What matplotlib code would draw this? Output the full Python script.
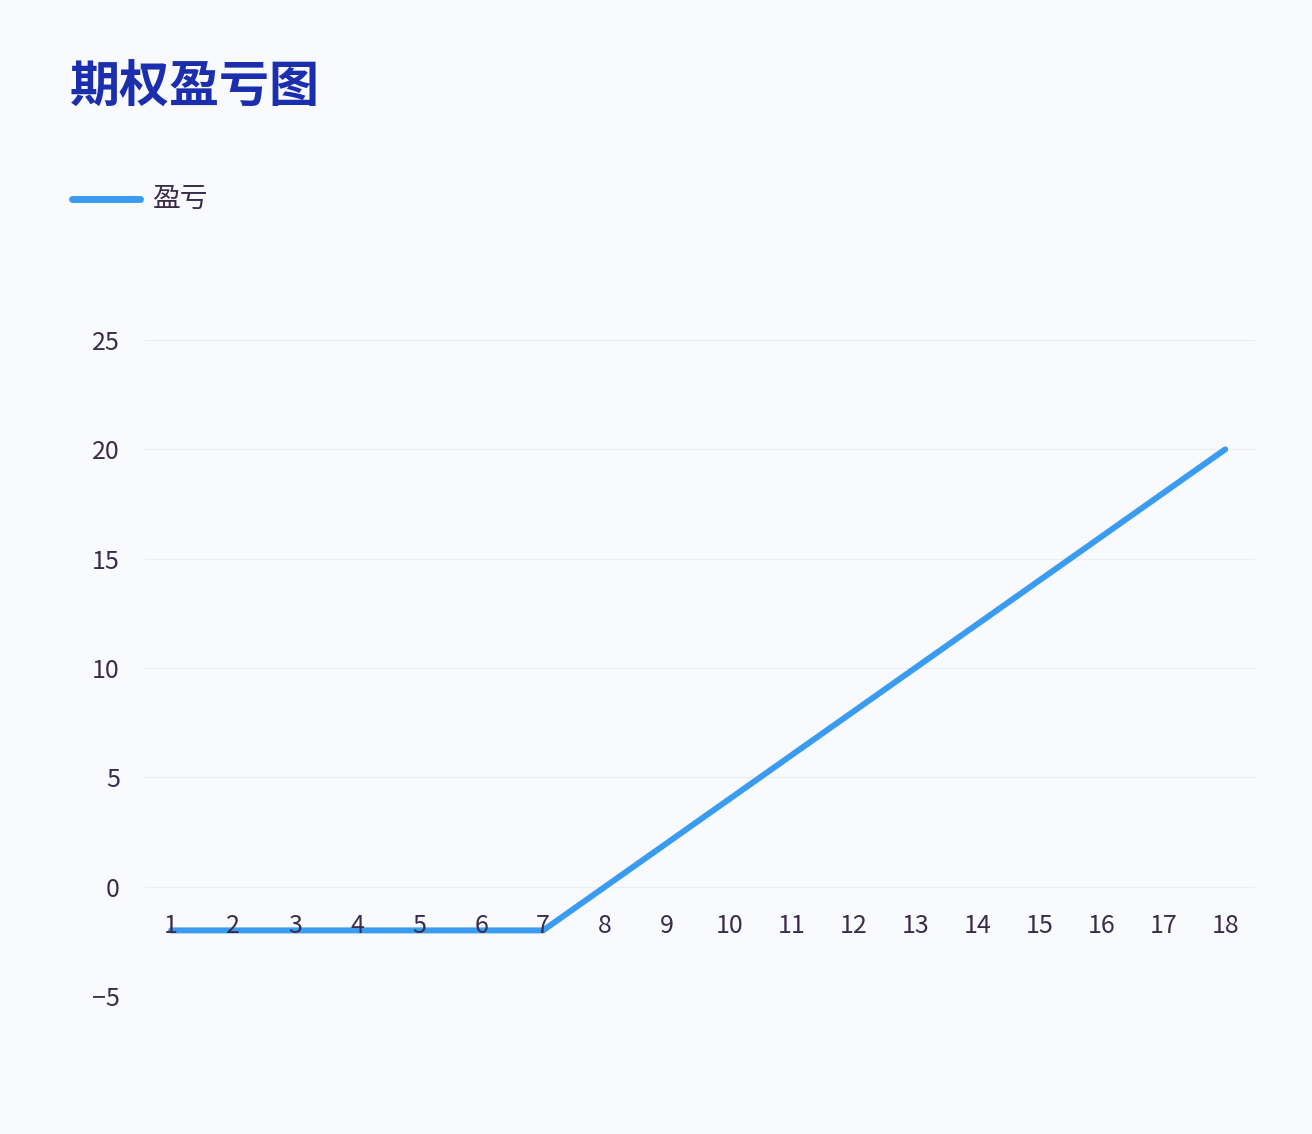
import matplotlib
matplotlib.use("Agg")
import matplotlib.pyplot as plt
from matplotlib.lines import Line2D

plt.rcParams['font.family'] = ['Noto Sans CJK SC', 'DejaVu Sans']

# data: option payoff
prices = [1, 2, 3, 4, 5, 6, 7, 8, 9, 10, 11, 12, 13, 14, 15, 16, 17, 18]
pnl = [-2, -2, -2, -2, -2, -2, -2, 0, 2, 4, 6, 8, 10, 12, 14, 16, 18, 20]
y_ticks = [-5, 0, 5, 10, 15, 20, 25]

title = "期权盈亏图"
series_name = "盈亏"

bg = '#f9fafd'
line_color = '#3a9cf0'
text_color = '#3b2c4a'

W, H = 1312, 1134
fig = plt.figure(figsize=(W / 100, H / 100), dpi=100, facecolor=bg)
ax = fig.add_axes([145 / W, 1 - 996 / H, (1255 - 145) / W, (996 - 340) / H])
ax.set_facecolor(bg)

# gridlines at the bottom, line above them, tick labels on top
for v in y_ticks:
    ax.axhline(v, color='#eceef4', lw=1, zorder=1)
ax.plot(prices, pnl, color=line_color, lw=4.3, solid_capstyle='round',
        solid_joinstyle='round', zorder=2)

ax.set_xlim(0.58, 18.48)
ax.set_ylim(-5, 25)
ax.set_yticks(y_ticks)
ax.set_yticklabels([str(v).replace('-', '\u2212') for v in y_ticks])
ax.set_xticks(prices)
ax.set_xticklabels([str(p) for p in prices])

# x axis sits on zero line
ax.spines['bottom'].set_position(('data', 0))
for s in ax.spines.values():
    s.set_visible(False)

ax.set_axisbelow(False)
ax.tick_params(axis='y', length=0, pad=18, labelsize=18, labelcolor=text_color)
ax.tick_params(axis='x', length=0, pad=19, labelsize=18, labelcolor=text_color)
for lab in ax.get_xticklabels() + ax.get_yticklabels():
    lab.set_fontweight('light')

fig.text(70 / W, 1 - 88 / H, title, fontsize=36, fontweight='bold',
         color='#1b2fae', va='center', ha='left')

# legend
fig.add_artist(Line2D([72 / W, 140 / W], [1 - 199 / H, 1 - 199 / H],
                      color=line_color, lw=5, solid_capstyle='round'))
fig.text(152 / W, 1 - 199 / H, series_name, fontsize=20, color=text_color,
         va='center', ha='left', fontweight='light')

fig.savefig('out.png', dpi=100, facecolor=bg)
